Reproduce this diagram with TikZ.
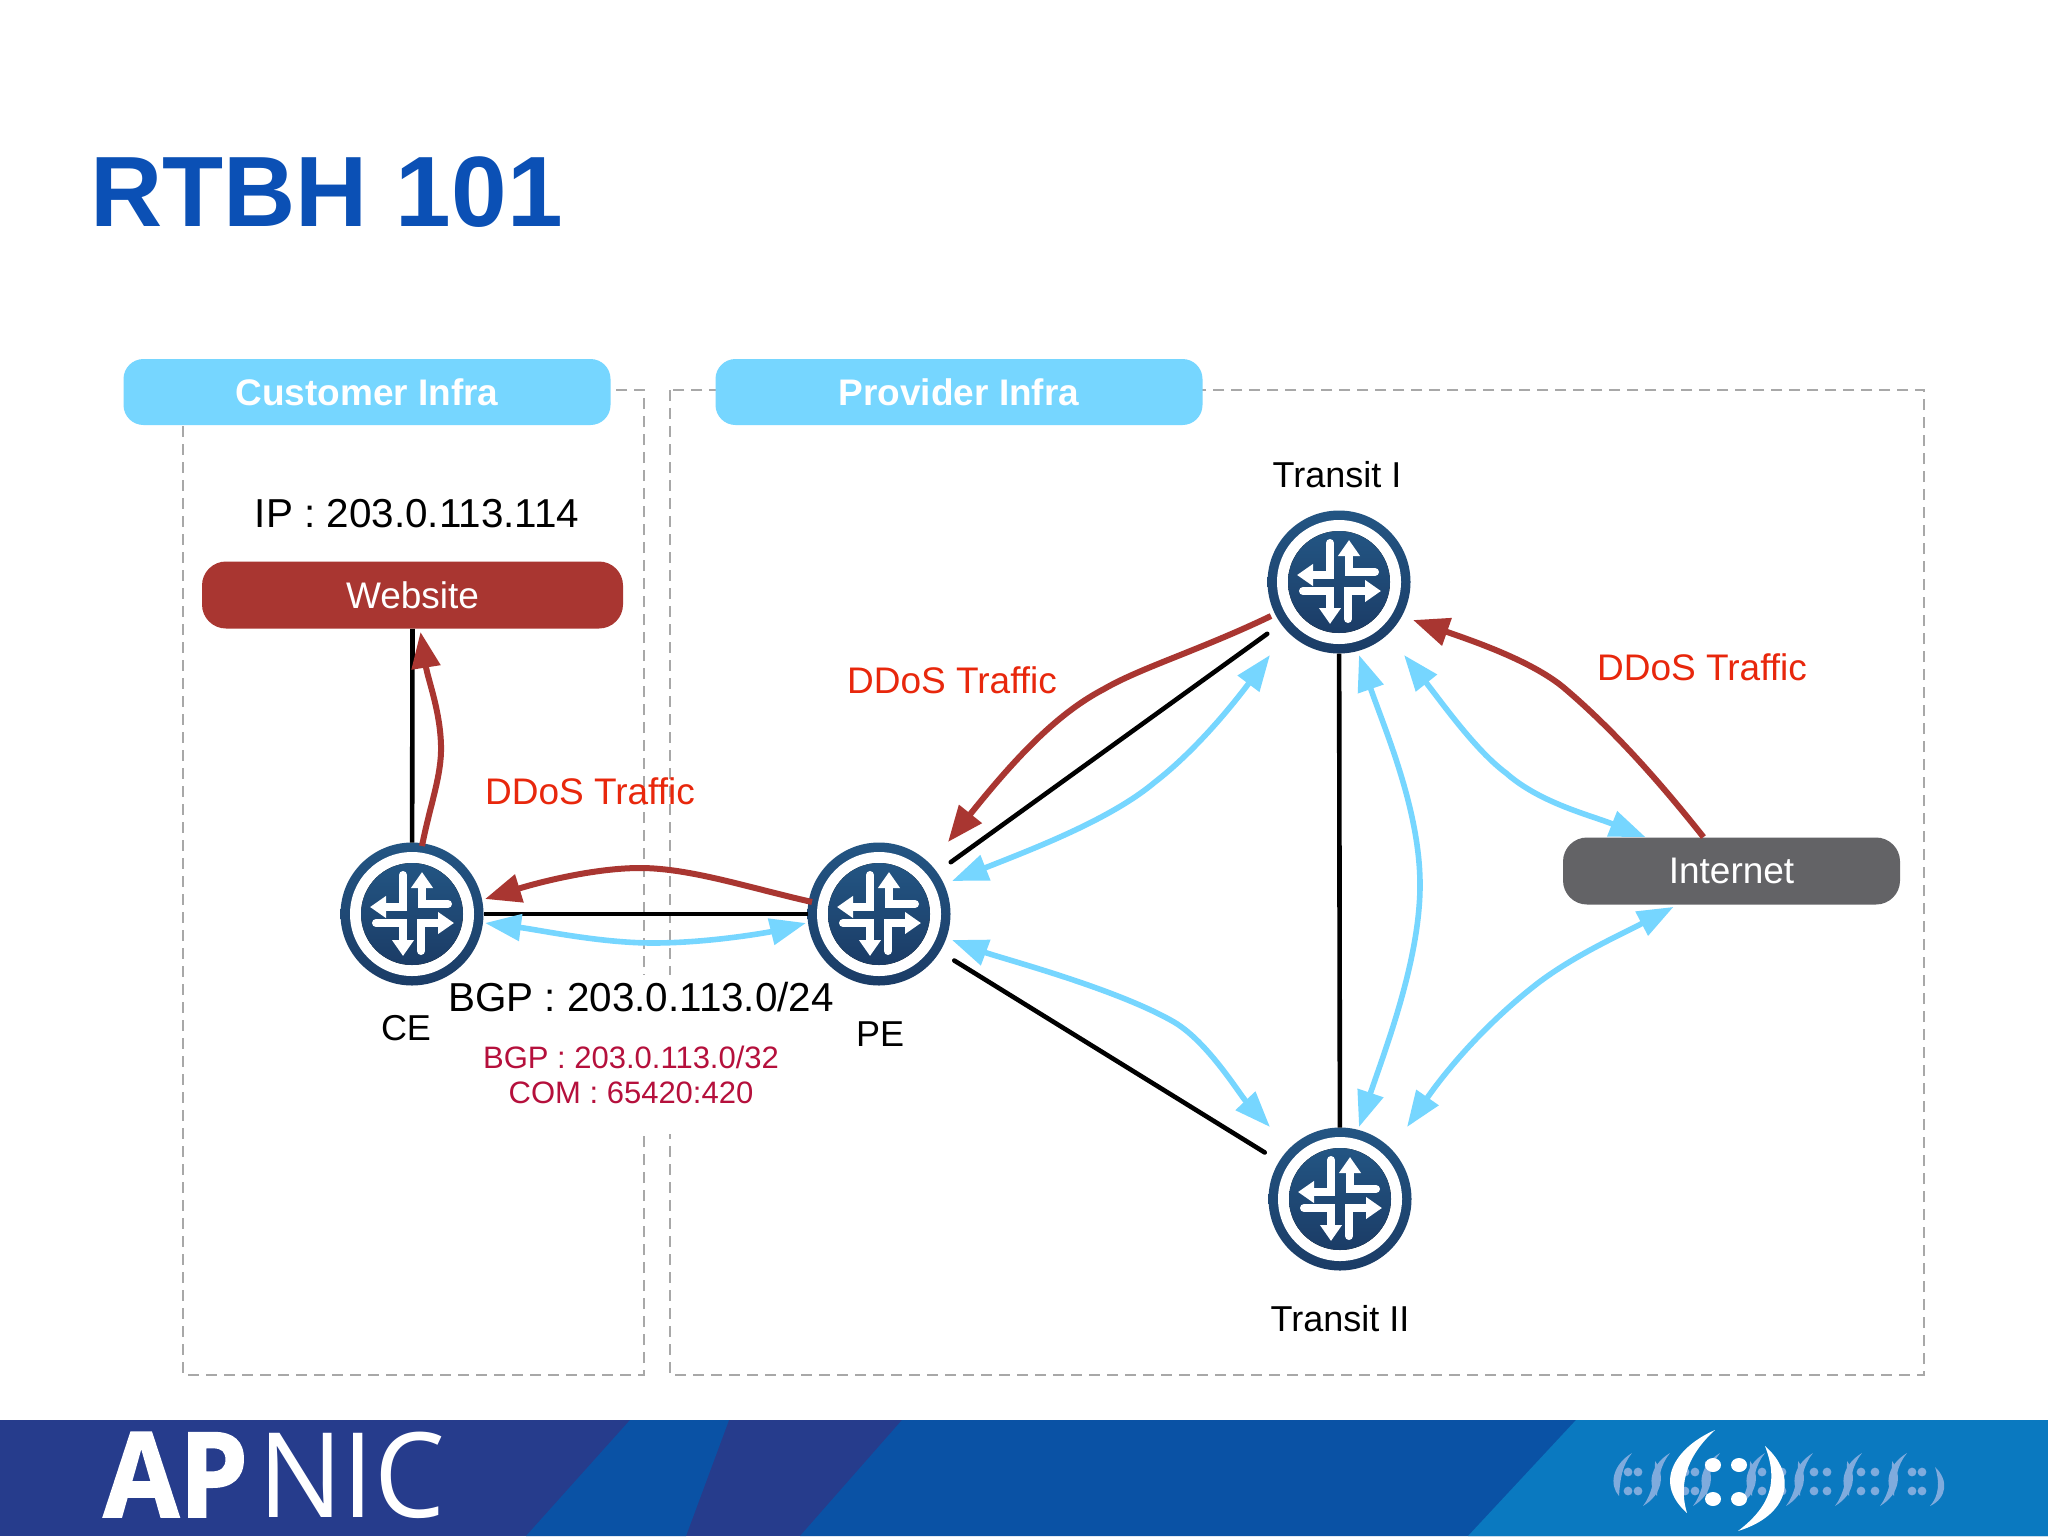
\documentclass[tikz,border=0pt]{standalone}
\usepackage{fontspec}
\setmainfont{Liberation Sans}
\newfontfamily\logofont{Open Sans}
\newfontfamily\logoheavy{Open Sans Bold}[FakeBold=1.6]
\usetikzlibrary{arrows.meta,calc}
\definecolor{routerblue}{HTML}{1F4C78}
\definecolor{routertop}{HTML}{235583}
\definecolor{routerbot}{HTML}{1B3C66}
\definecolor{linkblue}{HTML}{76D6FF}
\definecolor{brick}{HTML}{A93631}
\definecolor{slategray}{HTML}{636366}
\definecolor{titleblue}{HTML}{0B50B5}
\definecolor{ddosred}{HTML}{E8270C}
\definecolor{crimson}{HTML}{B5103C}
\definecolor{dashgray}{HTML}{A8A8A8}
\definecolor{bannerdark}{HTML}{263C8C}
\definecolor{bannermid}{HTML}{0A52A5}
\definecolor{bannerlight}{HTML}{0A79C0}
\definecolor{logosoft}{HTML}{7FABDD}
\newcommand{\fs}[1]{\fontsize{#1pt}{#1pt}\selectfont}
\newcommand{\softopen}[1]{\fill[logosoft] (#1+12,1453) .. controls (#1-8,1465) and (#1-11,1485) .. (#1-1,1496) .. controls (#1,1480) and (#1+2,1465) .. cycle;}
\newcommand{\softclose}[1]{\fill[logosoft] (#1-12,1506) .. controls (#1+8,1494) and (#1+10,1474) .. (#1,1461) .. controls (#1,1478) and (#1-3,1494) .. cycle;}
\tikzset{
  x=0.5pt,y=-0.5pt,
  dashbox/.style={draw=dashgray,line width=1pt,dash pattern=on 5.5pt off 3.5pt},
  headerbox/.style={fill=linkblue,rounded corners=10pt,text=white,font=\fs{18.5}\bfseries,minimum width=243.5pt,minimum height=33pt,inner sep=0pt},
  hostbox/.style={rounded corners=12pt,text=white,font=\fs{18.5},inner sep=0pt,minimum height=33.5pt},
  label/.style={text=black,font=\fs{18},inner sep=0pt},
  biglabel/.style={text=black,font=\fs{20.2},inner sep=0pt},
  ddos/.style={text=ddosred,font=\fs{18.5},inner sep=0pt},
  rtbh/.style={text=crimson,font=\fs{15.5},inner sep=0pt},
  routerbox/.style={circle,top color=routertop,bottom color=routerbot,minimum size=71.5pt,inner sep=0pt,outer sep=0pt},
  wire/.style={draw=black,line width=2.3pt},
  gapwire/.style={wire,shorten >=8.5pt,shorten <=8.5pt,line cap=round},
  attack/.style={draw=brick,line width=3pt,-{Triangle[length=18pt,width=14pt]}},
  route/.style={draw=linkblue,line width=2.8pt,{Triangle[length=18pt,width=13pt]}-{Triangle[length=18pt,width=13pt]}},
  iconarrow/.style={draw=white,line width=4pt,line cap=round,-{Triangle[length=8pt,width=10.5pt]}},
  iconpic/.pic={
    \fill[white] (0,0) circle (31pt);
    \fill[top color=routertop,bottom color=routerbot] (0,0) circle (25.5pt);
    \draw[iconarrow] (-9,-39) -- (-9,-7) -- (-42,-7);
    \draw[iconarrow] (36,-10) -- (10,-10) -- (10,-42);
    \draw[iconarrow] (-36,9) -- (-9,9) -- (-9,42);
    \draw[iconarrow] (9,37) -- (9,9) -- (42,9);
  }
}
\begin{document}
\begin{tikzpicture}
\useasboundingbox (0,0) rectangle (2048,1536);
\fill[white] (0,0) rectangle (2048,1536);
% banner
\fill[bannerdark] (0,1420) rectangle (2048,1536);
\fill[bannermid] (630,1420) -- (729,1420) -- (686,1536) -- (526,1536) -- cycle;
\fill[bannermid] (902,1420) -- (2048,1420) -- (2048,1536) -- (800,1536) -- cycle;
\fill[bannerlight] (1576,1420) -- (2048,1420) -- (2048,1536) -- (1468,1536) -- cycle;
\node[anchor=base west,inner sep=0pt,text=white,font=\logoheavy\fs{59}] (apLogo) at (103,1517) {\scalebox{.93}[1]{AP}};
\node[anchor=base west,inner sep=0pt,text=white,font=\logofont\fs{59}] (nicLogo) at (258,1517) {\scalebox{.95}[1]{NIC}};
% APNIC mark
\softopen{1620}
\softclose{1655}\softopen{1658}
\softclose{1705}\softopen{1708}
\softclose{1750}\softopen{1753}
\softclose{1798}\softopen{1801}
\softclose{1847}\softopen{1850}
\softclose{1892}\softopen{1895}
\fill[logosoft] (1935,1467) .. controls (1949,1480) and (1947,1498) .. (1930,1506) .. controls (1939,1496) and (1940,1482) .. cycle;
\foreach \ax/\bx in {1628/1638,1685/1695,1762/1782,1814/1827,1861/1875,1912/1922}{
  \foreach \ay in {1472,1491}{\fill[logosoft] (\ax,\ay) circle (2.2pt);\fill[logosoft] (\bx,\ay) circle (2.2pt);}
}
\fill[white] (1715,1430) .. controls (1680,1445) and (1650,1480) .. (1687,1513) .. controls (1680,1490) and (1682,1460) .. cycle;
\fill[white] (1765,1446) .. controls (1798,1475) and (1790,1515) .. (1738,1531) .. controls (1772,1505) and (1778,1480) .. cycle;
\foreach \px in {1713,1739}{\foreach \py in {1465,1499}{\fill[white] (\px,\py) ellipse (4pt and 3.5pt);}}
% title
\node[anchor=base west,inner sep=0pt,text=titleblue,font=\fs{50}\bfseries] (title) at (90,226) {RTBH 101};
% dashed regions
\draw[dashbox] (183,390) rectangle (644,1375);
\draw[dashbox] (670,390) rectangle (1924,1375);
% labels that sit over the dashed lines
\node[biglabel,fill=white,inner ysep=2pt,minimum width=200pt,minimum height=22pt] (bgpMain) at (641,997) {BGP : 203.0.113.0/24};
\node[fill=white,inner sep=0pt,minimum width=150pt,minimum height=58pt] (rtbhBack) at (632,1076) {};
\node[rtbh] (rtbhA) at (631,1057) {BGP : 203.0.113.0/32};
\node[rtbh] (rtbhB) at (631,1093) {COM : 65420:420};
\node[headerbox] (customer) at (367,392) {Customer Infra};
\node[headerbox] (provider) at (959,392) {Provider Infra};
\node[biglabel] (ipLabel) at (417,514) {IP : 203.0.113.114};
\node[hostbox,fill=brick,minimum width=210.5pt] (website) at (412.5,595) {Website};
\node[hostbox,fill=slategray,minimum width=168.5pt] (internet) at (1731.5,871) {Internet};
\node[routerbox] (ce) at (412,914) {};
\node[routerbox] (pe) at (879,914) {};
\node[routerbox] (transitOne) at (1339,582) {};
\node[routerbox] (transitTwo) at (1340,1199) {};
\foreach \r in {ce,pe,transitOne,transitTwo}{\pic at (\r) {iconpic};}
\node[label] (ceLabel) at (406,1028) {CE};
\node[label] (peLabel) at (880,1034) {PE};
\node[label] (tiLabel) at (1337,475) {Transit I};
\node[label] (tiiLabel) at (1340,1319) {Transit II};
\node[ddos] (ddosA) at (590,791) {DDoS Traffic};
\node[ddos] (ddosB) at (952,680) {DDoS Traffic};
\node[ddos] (ddosC) at (1702,667) {DDoS Traffic};
% black links
\draw[wire] (website.south) -- (ce);
\draw[wire] (ce) -- (pe);
\draw[gapwire] (pe) -- (transitOne);
\draw[gapwire] (pe) -- (transitTwo);
\draw[wire] (transitOne) -- (transitTwo);
% attack paths
\draw[attack] ($(ce)+(10,-68)$) .. controls (430,805) and (442,775) .. (441,745) .. controls (440,710) and (428,680) .. ($(website.south)+(8,3)$);
\draw[attack] ($(pe)+(-67,-12)$) .. controls (750,888) and (690,868) .. (640,868) .. controls (595,868) and (540,882) .. ($(ce)+(73,-15)$);
\draw[attack] ($(transitOne)+(-68,34)$) .. controls (1200,650) and (1140,668) .. (1104,689) .. controls (1060,712) and (1020,752) .. ($(pe)+(69,-72)$);
\draw[attack] ($(internet.north)+(-28,0)$) .. controls (1670,795) and (1620,735) .. (1563,687) .. controls (1530,660) and (1470,640) .. ($(transitOne)+(74,38)$);
% routes
\draw[route] ($(ce)+(73,9)$) .. controls (540,930) and (600,943) .. (653,943) .. controls (710,943) and (770,932) .. ($(pe)+(-73,9)$);
\draw[route] ($(transitOne)+(-69,73)$) .. controls (1225,715) and (1190,755) .. (1155,782) .. controls (1110,820) and (1030,850) .. ($(pe)+(73,-33)$);
\draw[route] ($(pe)+(73,26)$) .. controls (1000,958) and (1115,988) .. (1174,1022) .. controls (1208,1042) and (1240,1095) .. ($(transitTwo)+(-70,-72)$);
\draw[route] ($(transitOne)+(20,73)$) .. controls (1385,730) and (1420,810) .. (1420,885) .. controls (1420,960) and (1385,1050) .. ($(transitTwo)+(19,-72)$);
\draw[route] ($(transitOne)+(65,73)$) .. controls (1440,700) and (1475,750) .. (1506,773) .. controls (1540,803) and (1590,815) .. ($(internet.north)+(-86,0)$);
\draw[route] ($(internet.south)+(-58,2)$) .. controls (1620,935) and (1575,955) .. (1538,983) .. controls (1490,1020) and (1450,1065) .. ($(transitTwo)+(67,-72)$);
\end{tikzpicture}
\end{document}
